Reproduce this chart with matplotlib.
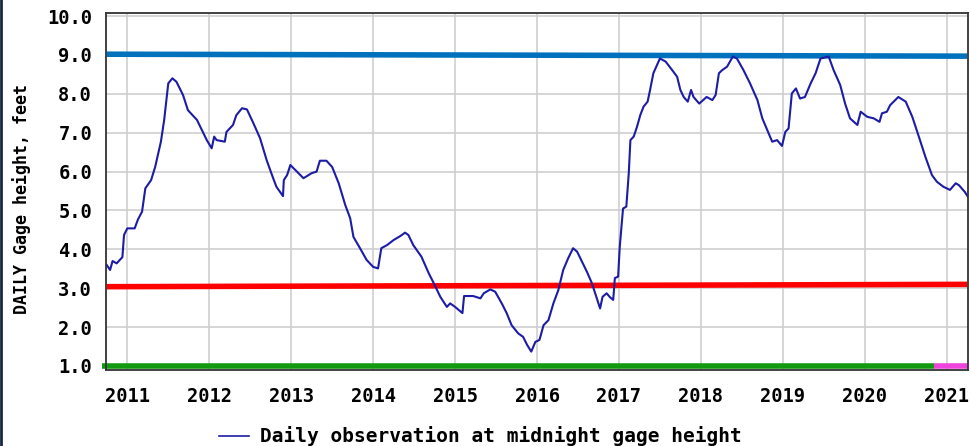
import matplotlib
matplotlib.use("Agg")
import matplotlib.pyplot as plt
from matplotlib.lines import Line2D

# Daily gage height (decimal year, feet)
obs_year = [2010.748, 2010.79, 2010.82, 2010.87, 2010.94, 2010.96, 2011.00, 2011.09,
            2011.13, 2011.18, 2011.22, 2011.29, 2011.34, 2011.41, 2011.45, 2011.50,
            2011.55, 2011.60, 2011.68, 2011.74, 2011.85, 2011.97, 2012.03, 2012.06,
            2012.09, 2012.19, 2012.21, 2012.29, 2012.33, 2012.40, 2012.46, 2012.54,
            2012.62, 2012.70, 2012.78, 2012.82, 2012.90, 2012.91, 2012.95, 2012.99,
            2013.07, 2013.15, 2013.25, 2013.31, 2013.35, 2013.43, 2013.50, 2013.58,
            2013.66, 2013.72, 2013.76, 2013.84, 2013.92, 2014.00, 2014.06, 2014.10,
            2014.17, 2014.25, 2014.33, 2014.39, 2014.43, 2014.49, 2014.59, 2014.68,
            2014.74, 2014.82, 2014.90, 2014.94, 2015.00, 2015.09, 2015.11, 2015.22,
            2015.31, 2015.35, 2015.43, 2015.49, 2015.57, 2015.63, 2015.69, 2015.77,
            2015.83, 2015.88, 2015.93, 2015.98, 2016.03, 2016.08, 2016.14, 2016.20,
            2016.26, 2016.32, 2016.38, 2016.44, 2016.49, 2016.55, 2016.61, 2016.67,
            2016.73, 2016.77, 2016.80, 2016.85, 2016.89, 2016.93, 2016.95, 2016.99,
            2017.01, 2017.05, 2017.09, 2017.12, 2017.14, 2017.18, 2017.22, 2017.26,
            2017.30, 2017.35, 2017.38, 2017.42, 2017.50, 2017.57, 2017.65, 2017.71,
            2017.75, 2017.79, 2017.84, 2017.88, 2017.91, 2017.98, 2018.07, 2018.14,
            2018.18, 2018.22, 2018.26, 2018.32, 2018.39, 2018.44, 2018.52, 2018.60,
            2018.69, 2018.75, 2018.81, 2018.87, 2018.93, 2018.99, 2019.03, 2019.07,
            2019.11, 2019.16, 2019.21, 2019.27, 2019.34, 2019.40, 2019.46, 2019.56,
            2019.62, 2019.70, 2019.76, 2019.82, 2019.91, 2019.95, 2020.03, 2020.11,
            2020.18, 2020.21, 2020.27, 2020.31, 2020.41, 2020.50, 2020.58, 2020.66,
            2020.74, 2020.82, 2020.88, 2020.96, 2021.04, 2021.11, 2021.15, 2021.22,
            2021.26]
gage_ft = [3.60, 3.47, 3.70, 3.64, 3.80, 4.37, 4.54, 4.54,
           4.77, 4.97, 5.57, 5.78, 6.12, 6.77, 7.33, 8.27,
           8.40, 8.31, 7.97, 7.58, 7.33, 6.81, 6.60, 6.90,
           6.81, 6.77, 7.02, 7.20, 7.45, 7.63, 7.60, 7.24,
           6.86, 6.30, 5.83, 5.61, 5.37, 5.78, 5.91, 6.17,
           6.00, 5.83, 5.96, 6.00, 6.28, 6.28, 6.12, 5.70,
           5.14, 4.80, 4.32, 4.03, 3.73, 3.55, 3.51, 4.03,
           4.11, 4.24, 4.34, 4.43, 4.37, 4.11, 3.81, 3.38,
           3.13, 2.78, 2.52, 2.61, 2.52, 2.36, 2.80, 2.80,
           2.74, 2.87, 2.97, 2.91, 2.61, 2.36, 2.05, 1.84,
           1.75, 1.54, 1.37, 1.62, 1.67, 2.05, 2.18, 2.61,
           2.95, 3.47, 3.77, 4.03, 3.94, 3.68, 3.42, 3.13,
           2.74, 2.48, 2.78, 2.87, 2.77, 2.70, 3.26, 3.30,
           4.07, 5.05, 5.10, 5.96, 6.81, 6.90, 7.15, 7.45,
           7.67, 7.80, 8.10, 8.53, 8.91, 8.83, 8.61, 8.44,
           8.10, 7.92, 7.80, 8.10, 7.92, 7.75, 7.92, 7.84,
           7.97, 8.53, 8.61, 8.70, 8.96, 8.91, 8.61, 8.27,
           7.84, 7.37, 7.07, 6.77, 6.81, 6.66, 7.02, 7.11,
           8.01, 8.14, 7.88, 7.92, 8.27, 8.53, 8.91, 8.96,
           8.61, 8.23, 7.75, 7.37, 7.20, 7.54, 7.41, 7.37,
           7.28, 7.50, 7.54, 7.71, 7.92, 7.80, 7.41, 6.90,
           6.38, 5.91, 5.74, 5.61, 5.53, 5.70, 5.65, 5.48,
           5.35]

# Reference stages over the record
stage_year = [2010.748, 2021.25]
upper_stage_ft = [9.02, 8.97]
lower_stage_ft = [3.04, 3.10]

# Record status bar along the base
approved_year = [2010.69, 2020.84]
provisional_year = [2020.84, 2021.26]
status_ft = [1.0, 1.0]

years = list(range(2011, 2022))
feet = [1.0, 2.0, 3.0, 4.0, 5.0, 6.0, 7.0, 8.0, 9.0, 10.0]

mono = "DejaVu Sans Mono"
line_blue = "#1c1ca6"

fig = plt.figure(figsize=(9.71, 4.46), dpi=100)
ax = fig.add_axes([106 / 971, 76 / 446, 862 / 971, 357 / 446])

ax.set_xlim(2010.74, 2021.26)
ax.set_ylim(0.897, 10.08)
ax.set_xticks(years)
ax.set_xticklabels([str(y) for y in years])
ax.set_yticks(feet)
ax.set_yticklabels([f"{v:.1f}" for v in feet])
ax.grid(True, color="#cccccc", linewidth=1.1)
ax.set_axisbelow(True)
ax.tick_params(axis="both", length=0, labelsize=13.5)
ax.tick_params(axis="y", pad=10)
ax.tick_params(axis="x", pad=12)
for lbl in ax.get_xticklabels() + ax.get_yticklabels():
    lbl.set_fontfamily(mono)
    lbl.set_fontweight("bold")
for sp in ax.spines.values():
    sp.set_color("#333333")
    sp.set_linewidth(1.3)

ax.plot(stage_year, upper_stage_ft, color="#0072bd", linewidth=4, solid_capstyle="butt")
ax.plot(stage_year, lower_stage_ft, color="#ff0000", linewidth=4, solid_capstyle="butt")
ax.plot(approved_year, status_ft, color="#119911", linewidth=4,
        solid_capstyle="butt", clip_on=False)
ax.plot(provisional_year, status_ft, color="#ee44dd", linewidth=4,
        solid_capstyle="butt", clip_on=False)

ax.plot(obs_year, gage_ft, color=line_blue, linewidth=1.5)

fig.text(22 / 971, 1 - 199 / 446, "DAILY Gage height, feet", rotation=90,
         ha="center", va="center", fontsize=12, fontweight="bold", family=mono)

handle = Line2D([], [], color=line_blue, linewidth=1.2)
fig.legend([handle], ["Daily observation at midnight gage height"],
           loc="center", bbox_to_anchor=(480 / 971, 1 - 436.5 / 446),
           frameon=False, handlelength=1.55, handletextpad=0.57, borderpad=0,
           prop={"family": mono, "weight": "bold", "size": 14})

# dark edge down the left side of the panel
fig.add_artist(Line2D([1.2 / 971, 1.2 / 971], [0, 1], color="#1a2540",
                      linewidth=2, transform=fig.transFigure))

fig.savefig("out.png", dpi=100, facecolor="white")
